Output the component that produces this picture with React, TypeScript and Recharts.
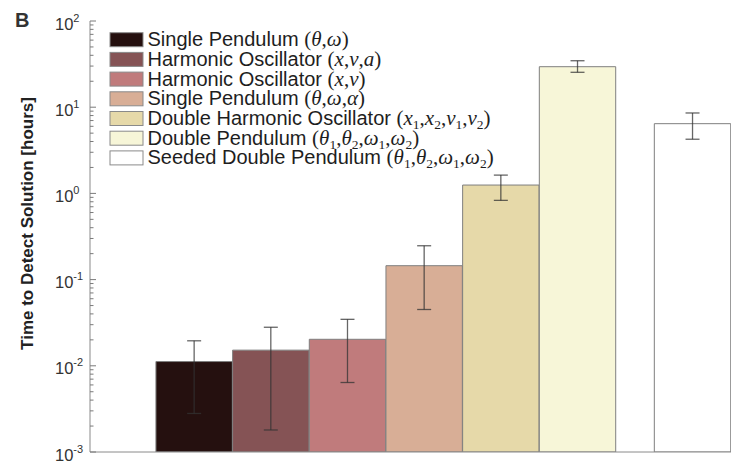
import React from "react";
import { BarChart, Bar, XAxis, YAxis, Cell, ErrorBar, Legend } from "recharts";

// ---- data ----
const categories = [
  "Single Pendulum",
  "Harmonic Oscillator",
  "Harmonic Oscillator",
  "Single Pendulum",
  "Double Harmonic Oscillator",
  "Double Pendulum",
  "Seeded Double Pendulum",
];
const variables = [
  "(θ,ω)",
  "(x,v,a)",
  "(x,v)",
  "(θ,ω,α)",
  "(x_1,x_2,v_1,v_2)",
  "(θ_1,θ_2,ω_1,ω_2)",
  "(θ_1,θ_2,ω_1,ω_2)",
];
const positions = [1, 2, 3, 4, 5, 6, 7.5];
const hours = [0.0112, 0.0152, 0.0203, 0.145, 1.25, 29.5, 6.44];
const lowerBound = [0.0028, 0.0018, 0.0064, 0.045, 0.83, 25.4, 4.25];
const upperBound = [0.0195, 0.028, 0.0346, 0.247, 1.63, 34.6, 8.57];
const colors = ["#25100f", "#855355", "#c07b7c", "#d8ae96", "#e6d9a9", "#f7f6d8", "#ffffff"];
const majorTicks = [0.001, 0.01, 0.1, 1, 10, 100];
const majorExponents = ["-3", "-2", "-1", "0", "1", "2"];

const data = positions.map((x, i) => ({
  x,
  value: hours[i],
  err: [hours[i] - lowerBound[i], upperBound[i] - hours[i]],
}));

const minorTicks: number[] = [];
majorTicks.slice(0, -1).forEach((d) => {
  for (let k = 2; k <= 9; k++) minorTicks.push(+(d * k).toPrecision(3));
});
const allTicks = [...majorTicks, ...minorTicks].sort((a, b) => a - b);

const SANS = "'Liberation Sans', Arial, Helvetica, sans-serif";
const SERIF = "'Liberation Serif', 'Times New Roman', serif";

function YTick(props: any) {
  const { x, y, payload } = props;
  const v = payload.value;
  const mi = majorTicks.findIndex((m) => Math.abs(m - v) / m < 1e-6);
  const isMajor = mi >= 0;
  return (
    <g>
      <line x1={x} y1={y} x2={x + (isMajor ? 6 : 3.5)} y2={y} stroke="#7a7a7a" strokeWidth={1} />
      {isMajor && (
        <text x={55} y={y + 8.5} fontFamily={SANS} fontSize={16.5} fill="#333" textAnchor="start">
          10
          <tspan fontSize={11} dy={-8}>
            {majorExponents[mi]}
          </tspan>
        </text>
      )}
    </g>
  );
}

function YLabel() {
  return (
    <text
      x={33}
      y={223.5}
      transform="rotate(-90, 33, 223.5)"
      textAnchor="middle"
      fontFamily={SANS}
      fontWeight="bold"
      fontSize={17}
      fill="#222"
    >
      Time to Detect Solution [hours]
    </text>
  );
}

function MathSpans({ expr }: { expr: string }) {
  const out: React.ReactNode[] = [];
  let shift = 0;
  const chars = Array.from(expr);
  for (let i = 0; i < chars.length; i++) {
    const c = chars[i];
    if (c === "_") {
      const d = chars[i + 1];
      out.push(
        <tspan key={i} fontSize={13.5} dy={4} fontStyle="normal">
          {d}
        </tspan>
      );
      shift = 4;
      i++;
      continue;
    }
    const italic = /[a-zA-Zα-ω]/.test(c);
    out.push(
      <tspan key={i} dy={shift ? -shift : undefined} fontStyle={italic ? "italic" : "normal"}>
        {c}
      </tspan>
    );
    shift = 0;
  }
  return <>{out}</>;
}

function LegendContent() {
  return (
    <svg width={731} height={464} style={{ position: "absolute", left: 0, top: 0 }}>
      <text x={15} y={27} fontFamily={SANS} fontWeight="bold" fontSize={20} fill="#333">
        B
      </text>
      {categories.map((name, i) => {
        const cy = 39.7 + 19.7 * i;
        return (
          <g key={i}>
            <rect x={110} y={cy - 7} width={33} height={14} fill={colors[i]} stroke="#8a8a8a" strokeWidth={1} />
            <text x={147.5} y={cy + 6.5} fontFamily={SANS} fontSize={20} fill="#1e1e1e">
              {name + " "}
              <tspan fontFamily={SERIF} fontSize={21}>
                <MathSpans expr={variables[i]} />
              </tspan>
            </text>
          </g>
        );
      })}
    </svg>
  );
}

export default function App() {
  return (
    <div style={{ position: "absolute", left: 0, top: 0, width: 731, height: 464, background: "#fff" }}>
      <BarChart width={731} height={464} data={data} margin={{ top: 21, right: 0, bottom: 11, left: 0 }}>
        <XAxis
          dataKey="x"
          type="number"
          domain={[-0.36, 8]}
          allowDataOverflow
          tick={false}
          tickLine={false}
          height={1}
          axisLine={{ stroke: "#8a8a8a", strokeWidth: 1 }}
        />
        <YAxis
          scale="log"
          domain={[0.001, 100]}
          allowDataOverflow
          ticks={allTicks}
          interval={0}
          width={90}
          tickSize={0}
          tickMargin={0}
          tick={<YTick />}
          tickLine={false}
          axisLine={{ stroke: "#8a8a8a", strokeWidth: 1 }}
          label={<YLabel />}
        />
        <Legend
          layout="vertical"
          align="center"
          verticalAlign="middle"
          content={<LegendContent />}
          wrapperStyle={{ position: "absolute", left: 0, top: 0, width: 731, height: 464, pointerEvents: "none" }}
        />
        <Bar dataKey="value" barSize={76.4} stroke="#7f7f7f" strokeWidth={1} isAnimationActive={false}>
          {data.map((d, i) => (
            <Cell key={i} fill={colors[i]} />
          ))}
          <ErrorBar dataKey="err" width={7} stroke="#333" strokeOpacity={0.75} strokeWidth={1.3} direction="y" />
        </Bar>
      </BarChart>
    </div>
  );
}
